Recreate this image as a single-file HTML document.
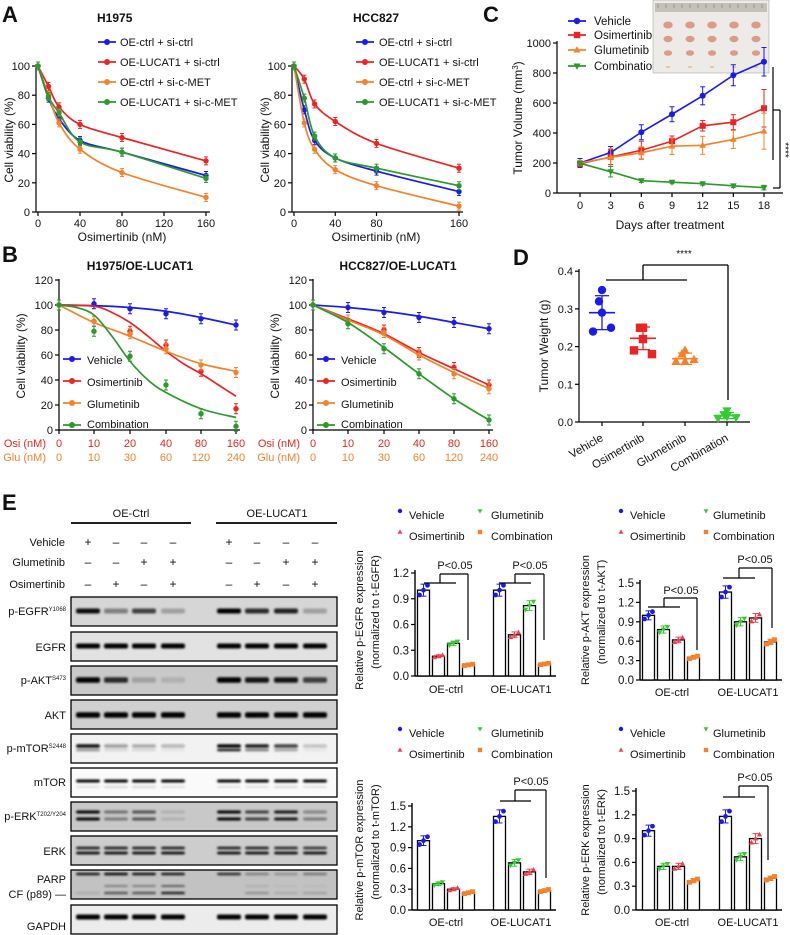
<!DOCTYPE html>
<html><head><meta charset="utf-8"><style>
html,body{margin:0;padding:0;background:#fff}
svg{display:block}
svg text{font-family:"Liberation Sans",Arial,sans-serif;font-size:11px;fill:#111}
.b{font-weight:bold}
</style></head><body>
<svg id="s" width="790" height="935" viewBox="0 0 790 935" xmlns="http://www.w3.org/2000/svg">
<defs><filter id="bl" x="-20%" y="-100%" width="140%" height="300%"><feGaussianBlur stdDeviation="1.1"/></filter></defs>
<text x="2" y="22" class="b" style="font-size:22px">A</text>
<text x="2" y="262" class="b" style="font-size:22px">B</text>
<text x="483" y="22" class="b" style="font-size:22px">C</text>
<text x="513" y="265" class="b" style="font-size:22px">D</text>
<text x="2" y="510" class="b" style="font-size:22px">E</text>
<text x="97" y="22" class="b" style="font-size:12px">H1975</text>
<text x="353" y="22" class="b" style="font-size:12px">HCC827</text>
<text transform="translate(13,140) rotate(-90)" text-anchor="middle" style="font-size:12px">Cell viability (%)</text>
<text transform="translate(269,140) rotate(-90)" text-anchor="middle" style="font-size:12px">Cell viability (%)</text>
<text x="122" y="241" text-anchor="middle" style="font-size:12px">Osimertinib (nM)</text>
<text x="376" y="241" text-anchor="middle" style="font-size:12px">Osimertinib (nM)</text>
<text x="120" y="46">OE-ctrl + si-ctrl</text><text x="120" y="66">OE-LUCAT1 + si-ctrl</text><text x="120" y="86">OE-ctrl + si-c-MET</text><text x="120" y="106">OE-LUCAT1 + si-c-MET</text>
<text x="379" y="46">OE-ctrl + si-ctrl</text><text x="379" y="66">OE-LUCAT1 + si-ctrl</text><text x="379" y="86">OE-ctrl + si-c-MET</text><text x="379" y="106">OE-LUCAT1 + si-c-MET</text>
<text x="140" y="270" text-anchor="middle" class="b" style="font-size:12px">H1975/OE-LUCAT1</text>
<text x="398" y="270" text-anchor="middle" class="b" style="font-size:12px">HCC827/OE-LUCAT1</text>
<text transform="translate(25,356) rotate(-90)" text-anchor="middle" style="font-size:12px">Cell viability (%)</text>
<text transform="translate(279,356) rotate(-90)" text-anchor="middle" style="font-size:12px">Cell viability (%)</text>
<text x="87" y="364">Vehicle</text><text x="87" y="386">Osimertinib</text><text x="87" y="408">Glumetinib</text><text x="87" y="428">Combination</text>
<text x="341" y="364">Vehicle</text><text x="341" y="386">Osimertinib</text><text x="341" y="408">Glumetinib</text><text x="341" y="428">Combination</text>
<text x="46" y="447" text-anchor="end" style="fill:#e8251c">Osi (nM)</text><text x="46" y="461" text-anchor="end" style="fill:#f5822a">Glu (nM)</text>
<text x="300" y="447" text-anchor="end" style="fill:#e8251c">Osi (nM)</text><text x="300" y="461" text-anchor="end" style="fill:#f5822a">Glu (nM)</text>
<text x="594" y="25" style="font-size:11.5px">Vehicle</text><text x="594" y="39" style="font-size:11.5px">Osimertinib</text><text x="594" y="54" style="font-size:11.5px">Glumetinib</text><text x="594" y="70" style="font-size:11.5px">Combination</text>
<text transform="translate(522,118) rotate(-90)" text-anchor="middle" style="font-size:12px">Tumor Volume (mm<tspan dy="-4" style="font-size:8px">3</tspan><tspan dy="4">)</tspan></text>
<text x="670" y="229" text-anchor="middle" style="font-size:12px">Days after treatment</text>
<text transform="translate(548,346) rotate(-90)" text-anchor="middle" style="font-size:12px">Tumor Weight (g)</text>
<text x="684" y="257" text-anchor="middle" style="font-size:10px">****</text>
<text transform="translate(604,440) rotate(-30)" text-anchor="end" style="font-size:11.5px">Vehicle</text>
<text transform="translate(645,440) rotate(-30)" text-anchor="end" style="font-size:11.5px">Osimertinib</text>
<text transform="translate(687,440) rotate(-30)" text-anchor="end" style="font-size:11.5px">Glumetinib</text>
<text transform="translate(729,440) rotate(-30)" text-anchor="end" style="font-size:11.5px">Combination</text>
<text transform="translate(782,150) rotate(90)" text-anchor="middle" style="font-size:10px">****</text>
<text x="131" y="517" text-anchor="middle">OE-Ctrl</text>
<text x="277" y="517" text-anchor="middle">OE-LUCAT1</text>
<text x="65" y="546" text-anchor="end">Vehicle</text>
<text x="65" y="566" text-anchor="end">Glumetinib</text>
<text x="65" y="588" text-anchor="end">Osimertinib</text>
<text x="66" y="615" text-anchor="end">p-EGFR<tspan dy="-4" style="font-size:6px">Y1068</tspan></text>
<text x="66" y="651" text-anchor="end">EGFR</text>
<text x="66" y="684" text-anchor="end">p-AKT<tspan dy="-4" style="font-size:6px">S473</tspan></text>
<text x="66" y="719" text-anchor="end">AKT</text>
<text x="66" y="752" text-anchor="end">p-mTOR<tspan dy="-4" style="font-size:6px">S2448</tspan></text>
<text x="66" y="786" text-anchor="end">mTOR</text>
<text x="66" y="820" text-anchor="end">p-ERK<tspan dy="-4" style="font-size:6px">T202/Y204</tspan></text>
<text x="66" y="855" text-anchor="end">ERK</text>
<text x="66" y="883" text-anchor="end">PARP</text>
<text x="66" y="898" text-anchor="end">CF (p89) —</text>
<text x="66" y="930" text-anchor="end">GAPDH</text>
<g style="font-size:11.5px">
<text x="409" y="519">Vehicle</text><text x="491" y="519">Glumetinib</text><text x="409" y="540">Osimertinib</text><text x="491" y="540">Combination</text>
<text x="630" y="519">Vehicle</text><text x="713" y="519">Glumetinib</text><text x="630" y="540">Osimertinib</text><text x="713" y="540">Combination</text>
<text x="409" y="737">Vehicle</text><text x="491" y="737">Glumetinib</text><text x="409" y="758">Osimertinib</text><text x="491" y="758">Combination</text>
<text x="630" y="737">Vehicle</text><text x="713" y="737">Glumetinib</text><text x="630" y="758">Osimertinib</text><text x="713" y="758">Combination</text>
</g>
<g style="font-size:11.5px">
<text transform="translate(363,620) rotate(-90)" text-anchor="middle">Relative p-EGFR expression</text>
<text transform="translate(379,612) rotate(-90)" text-anchor="middle">(normalized to t-EGFR)</text>
<text transform="translate(589,620) rotate(-90)" text-anchor="middle">Relative p-AKT expression</text>
<text transform="translate(605,612) rotate(-90)" text-anchor="middle">(normalized to t-AKT)</text>
<text transform="translate(363,850) rotate(-90)" text-anchor="middle">Relative p-mTOR expression</text>
<text transform="translate(379,842) rotate(-90)" text-anchor="middle">(normalized to t-mTOR)</text>
<text transform="translate(589,850) rotate(-90)" text-anchor="middle">Relative p-ERK expression</text>
<text transform="translate(605,842) rotate(-90)" text-anchor="middle">(normalized to t-ERK)</text>
</g>
<g style="font-size:12px" text-anchor="middle">
<text x="455" y="569">P&lt;0.05</text><text x="530" y="569">P&lt;0.05</text>
<text x="681" y="594">P&lt;0.05</text><text x="755" y="563">P&lt;0.05</text>
<text x="531" y="785">P&lt;0.05</text><text x="755" y="781">P&lt;0.05</text>
</g>
<g text-anchor="middle" style="font-size:11.5px">
<text x="446" y="678" dy="15">OE-ctrl</text><text x="521" y="678" dy="15">OE-LUCAT1</text>
<text x="672" y="681" dy="15">OE-ctrl</text><text x="748" y="681" dy="15">OE-LUCAT1</text>
<text x="446" y="911" dy="15">OE-ctrl</text><text x="521" y="911" dy="15">OE-LUCAT1</text>
<text x="672" y="911" dy="15">OE-ctrl</text><text x="748" y="911" dy="15">OE-LUCAT1</text>
</g>
</svg>
<script>
const S=document.getElementById('s');const NS='http://www.w3.org/2000/svg';
function E(t,a,txt,par){const e=document.createElementNS(NS,t);for(const k in a)e.setAttribute(k,a[k]);if(txt!==undefined)e.textContent=txt;(par||S).appendChild(e);return e;}
function L(x1,y1,x2,y2,c,w){return E('line',{x1,y1,x2,y2,stroke:c||'#000','stroke-width':w||1.2});}
function T(x,y,s,o){return E('text',Object.assign({x,y},o||{}),String(s));}
const B='#1a1aee',R='#ee2222',O='#f5822a',G='#2a9a2a',GL='#33cc33',RL='#f04050';
function mk(t,x,y,c,r){r=r||3;
 if(t=='c')E('circle',{cx:x,cy:y,r,fill:c});
 else if(t=='s')E('rect',{x:x-r,y:y-r,width:2*r,height:2*r,fill:c});
 else if(t=='t')E('polygon',{points:`${x},${y-r*1.2} ${x-r*1.1},${y+r*0.8} ${x+r*1.1},${y+r*0.8}`,fill:c});
 else E('polygon',{points:`${x},${y+r*1.2} ${x-r*1.1},${y-r*0.8} ${x+r*1.1},${y-r*0.8}`,fill:c});}
function eb(x,y1,y2,c,w){L(x,y1,x,y2,c,1);L(x-w,y1,x+w,y1,c,1);L(x-w,y2,x+w,y2,c,1);}
function smooth(p){let d=`M${p[0][0]},${p[0][1]}`;for(let i=0;i<p.length-1;i++){const p0=p[i-1]||p[i],p1=p[i],p2=p[i+1],p3=p[i+2]||p2;d+=` C${p1[0]+(p2[0]-p0[0])/6},${p1[1]+(p2[1]-p0[1])/6} ${p2[0]-(p3[0]-p1[0])/6},${p2[1]-(p3[1]-p1[1])/6} ${p2[0]},${p2[1]}`;}return d;}
function panelA(ax,x0,x1,ticks,data,lx){
 const X=v=>x0+(x1-x0)*v/160,Y=v=>212-146*v/100;
 L(ax,64,ax,212);L(ax,212,x1+4,212);
 for(const v of [0,20,40,60,80,100]){L(ax-4,Y(v),ax,Y(v));T(ax-6,Y(v)+4,v,{'text-anchor':'end'});}
 for(const v of ticks){L(X(v),212,X(v),216);T(X(v),227,v,{'text-anchor':'middle'});}
 const xs=[0,10,20,40,80,160];
 data.forEach(([c,vals],k)=>{const p=xs.map((x,i)=>[X(x),Y(vals[i])]);
  E('path',{d:smooth(p),fill:'none',stroke:c,'stroke-width':1.7});
  p.forEach(q=>{eb(q[0],q[1]-4,q[1]+4,c,2);mk('c',q[0],q[1],c,2.7);});
  const ly=42+k*20;L(lx,ly,lx+18,ly,c,1.7);mk('c',lx+9,ly,c,3);});
}
panelA(36,38,206,[0,40,80,120,160],[[B,[100,78,64,49,41,25]],[R,[100,86,72,60,51,35]],[O,[100,80,61,43,27,10]],[G,[100,79,68,48,41,23]]],98);
panelA(292,294,459,[0,40,80,160],[[B,[100,70,49,37,28,14]],[R,[100,91,74,62,47,30]],[O,[100,61,43,29,18,4]],[G,[100,78,52,37,30,18]]],356);
// Panel B
function panelB(ax,xs,data,lx){
 const Y=v=>430-125*v/100;
 L(ax,279,ax,430);L(ax,430,xs[5]+4,430);
 for(const v of [0,20,40,60,80,100,120]){L(ax-4,Y(v),ax,Y(v));T(ax-6,Y(v)+4,v,{'text-anchor':'end'});}
 const osi=[0,10,20,40,80,160],glu=[0,10,30,60,120,240];
 xs.forEach((x,i)=>{L(x,430,x,434);T(x,447,osi[i],{'text-anchor':'middle',style:'fill:#e8251c'});T(x,461,glu[i],{'text-anchor':'middle',style:'fill:#f5822a'});});
 data.forEach(([c,curve,vals],k)=>{
  const cp=curve.map(([xi,v])=>{const i=Math.floor(xi),f=xi-i;const x=i>=5?xs[5]:xs[i]+(xs[i+1]-xs[i])*f;return [x,Y(v)];});
  E('path',{d:smooth(cp),fill:'none',stroke:c,'stroke-width':1.7});
  xs.forEach((x,i)=>{const y=Y(vals[i]);eb(x,y-5,y+5,c,2);mk('c',x,y,c,2.7);});
  const ly=359+k*22;L(lx,ly,lx+18,ly,c,1.7);mk('c',lx+9,ly,c,3);});
}
panelB(59,[59,94,130,166,201,236],[
 [B,[[0,100],[1,99.5],[2,98],[3,95],[4,90],[5,84]],[100,101,97,93,89,84]],
 [R,[[0,100],[1,99],[1.5,94],[2,86],[2.5,75],[3,63],[3.5,53],[4,45],[4.5,36],[5,27]],[100,87,79,68,47,17]],
 [O,[[0,100],[1,86],[2,75],[3,63],[4,53],[5,47]],[100,87,77,65,52,46]],
 [G,[[0,100],[0.5,98],[1,92],[1.5,75],[2,55],[2.5,40],[3,30],[4,17],[5,10]],[100,79,59,36,13,3]]],63);
panelB(313,[313,348,384,419,454,489],[
 [B,[[0,100],[1,98],[2,95],[3,91],[4,86],[5,81]],[100,98,94,90,86,81]],
 [R,[[0,100],[1,89],[2,77],[3,62],[4,49],[5,36]],[100,88,80,62,50,36]],
 [O,[[0,100],[1,88],[2,76],[3,60],[4,46],[5,33]],[100,88,78,60,45,33]],
 [G,[[0,100],[1,86],[2,66],[3,45],[4,25],[5,8]],[100,85,65,45,25,8]]],317);
// Panel C
(function(){
 const X=d=>580+d*184/18,Y=v=>193-v*0.15;
 L(557,41,557,193);L(557,193,783,193);
 for(let v=0;v<=1000;v+=200){L(553,Y(v),557,Y(v));T(551,Y(v)+4,v,{'text-anchor':'end'});}
 for(let d=0;d<=18;d+=3){L(X(d),193,X(d),197);T(X(d),209,d,{'text-anchor':'middle'});}
 E('rect',{x:653,y:0,width:116,height:73,fill:'#ecebe7',stroke:'#999','stroke-width':0.5});
 E('rect',{x:655,y:3,width:112,height:9,fill:'#c4c1b9'});
 for(let i=0;i<14;i++)L(658+i*8,4,658+i*8,8,'#555',0.4);
 const szs=[3.5,3.2,2.8,1];
 for(let r=0;r<4;r++)for(let c=0;c<5;c++)E('ellipse',{cx:668+c*22,cy:25+r*14,rx:szs[r]+1.3,ry:szs[r],fill:r==3?'#ecc0a0':'#de9a88'});
 const data=[[B,'c',[200,270,405,525,648,785,875],[30,40,50,50,60,70,95]],[R,'s',[195,240,285,345,448,472,565],[20,50,60,35,35,50,125]],[O,'t',[200,238,268,312,318,357,412],[15,60,40,55,60,60,120]],[G,'i',[198,142,82,72,62,48,36],[10,35,12,10,10,12,15]]];
 data.forEach(([c,m,v,e],k)=>{const p=v.map((y,i)=>[X(i*3),Y(y)]);
  E('polyline',{points:p.map(q=>q.join(',')).join(' '),fill:'none',stroke:c,'stroke-width':1.6});
  p.forEach((q,i)=>{eb(q[0],Y(v[i]+e[i]),Y(v[i]-e[i]),c,2.5);mk(m,q[0],q[1],c,3);});
  const ly=[21,35,50,66][k];L(568,ly,586,ly,c,1.7);mk(m,577,ly,c,3.2);});
 L(773,67,773,160);L(773,110,780,110);L(780,110,780,188);L(780,188,773,188);
})();
// Panel D
(function(){
 const Y=v=>422-v*377;
 L(579,269,579,422);L(579,422,750,422);
 [0,0.1,0.2,0.3,0.4].forEach(v=>{L(575,Y(v),579,Y(v));T(573,Y(v)+4,v.toFixed(1),{'text-anchor':'end'});});
 const gs=[[602,B,'c',[.35,.32,.29,.24,.25],.29,.045],[643,R,'s',[.25,.25,.22,.19,.18],.222,.03],[685,O,'t',[.19,.18,.16,.16,.165],.168,.015],[727,GL,'i',[.03,.02,.015,.01,.012],.017,.008]];
 gs.forEach(([x,c,m,vs,mean,sd])=>{L(x,422,x,426);
  vs.forEach((v,i)=>mk(m,x+[0,0,0,-9,9][i]+(i==1?-3:0),Y(v),c,4.2));
  L(x-13,Y(mean),x+13,Y(mean),c,1.6);L(x,Y(mean+sd),x,Y(mean-sd),c,1.3);L(x-7,Y(mean+sd),x+7,Y(mean+sd),c,1.3);L(x-7,Y(mean-sd),x+7,Y(mean-sd),c,1.3);});
 L(606,280,687,280,'#000',1.3);L(643,280,643,265,'#000',1.3);L(643,265,728,265,'#000',1.3);L(728,265,728,400,'#000',1.3);
})();
// Bar charts
function bars(ax,y0,ytop,vmax,xs,vals,pts,leg){
 const Y=v=>y0-(y0-ytop)*v/vmax,n=Math.round(vmax/0.3);
 L(ax,ytop-3,ax,y0,'#000',1.4);L(ax,y0,xs[7]+18,y0,'#000',1.4);
 for(let i=0;i<=n;i++){const v=i*0.3;L(ax-4,Y(v),ax,Y(v));T(ax-6,Y(v)+4,v.toFixed(1),{'text-anchor':'end',style:'font-size:11.5px'});}
 const cm={v:[B,'c'],g:[GL,'i'],o:[RL,'t'],c:[O,'s']};
 xs.forEach((x,i)=>{const v=vals[i];E('rect',{x:x+0.5,y:Y(v),width:12,height:y0-Y(v),fill:'#fff',stroke:'#000','stroke-width':1.3});
  const [c,m]=cm[pts[i]];const sp=v*0.07;
  eb(x+6.5,Y(v+sp),Y(Math.max(v-sp,0)),c,3);
  [-4,0,4].forEach((d,j)=>mk(m,x+6.5+d,Y(v+(j-1)*sp*0.8),c,2.4));});
 const [lx1,lx2,ly]=leg;mk('c',lx1,ly-4,B,2.2);mk('i',lx2,ly-4,GL,2.2);mk('t',lx1,ly+17,RL,2.2);mk('s',lx2,ly+17,O,2.2);
}
function pb(x1,x2,yl,xm,yt,xr,yb){L(x1,yl,x2,yl);L(xm,yl,xm,yt);L(xm,yt,xr,yt);L(xr,yt,xr,yb);}
const g1=[417,432,447,462,493,508,523,538],g2=[642,657,672,687,719,734,749,764];
bars(415,676,573,1.2,g1,[1,.23,.38,.13,1,.48,.82,.14],['v','o','g','c','v','o','g','c'],[400,480,515]);
pb(424,456,583,440,574,468,640);pb(499,531,583,515,574,544,640);
bars(640,680,583,1.5,g2,[1,.78,.62,.35,1.36,.9,.96,.59],['v','g','o','c','v','g','o','c'],[621,706,515]);
pb(648,680,607,664,598,697,650);pb(723,755,578,739,568,772,628);
bars(412,910,806,1.5,g1,[1,.38,.3,.25,1.35,.68,.55,.28],['v','g','o','c','v','g','o','c'],[400,480,733]);
pb(500,531,801,515,790,546,878);
bars(636,910,791,1.5,g2,[1,.55,.55,.37,1.18,.67,.9,.4],['v','g','o','c','v','g','o','c'],[621,706,733]);
pb(723,755,797,739,786,768,860);
// Panel E blot
(function(){
 L(71,523,191,523,'#000',1.8);L(216,523,337,523,'#000',1.8);
 const lanes=[88,116,144,173,229,257,286,315];
 const sg=[['+','–','–','–','+','–','–','–'],['–','–','+','+','–','–','+','+'],['–','+','–','+','–','+','–','+']];
 sg.forEach((r,ri)=>r.forEach((s,i)=>T(lanes[i],[546,566,588][ri],s,{'text-anchor':'middle',style:'font-size:12px'})));
 const rows=[
  [597,'#d6d6d6',[[14,[.95,.4,.7,.25,1,.8,.85,.25],5]]],
  [632,'#e2e2e2',[[14,[1,1,1,1,1,1,1,1],5]]],
  [666,'#c9c9c9',[[14,[1,.8,.2,.12,1,.9,.9,.7],5.5]]],
  [700,'#d0d0d0',[[15,[1,1,1,1,1,1,1,1],5.5]]],
  [734,'#f2f2f2',[[12,[.95,.35,.3,.25,1,.9,.75,.2],3.5],[16,[.4,.12,.12,.06,.9,.5,.35,.06],2.5]]],
  [768,'#fafafa',[[13,[1,1,1,1,1,1,1,1],3],[19,[.15,.2,.2,.15,.15,.15,.2,.15],1.5]]],
  [802,'#c8c8c8',[[10,[1,.45,.6,.12,1,.7,.9,.35],3],[17,[1,.4,.6,.12,1,.7,.9,.4],3]]],
  [836,'#cdcdcd',[[12,[.9,.9,.9,.9,.9,.9,.85,.8],2.5],[17,[.95,.95,.95,.95,.95,.95,.95,.95],2.8]]],
  [870,'#c2c2c2',[[4,[.9,1,.95,.9,.8,.35,.25,.4],2.5],[16,[0,.4,.4,.6,0,.12,.06,.06],1.8],[23,[.12,.6,.6,.9,0,.25,.12,.18],2.3]]],
  [905,'#ececec',[[12,[1,1,1,1,1,1,1,1],5]]]];
 rows.forEach(([y,bg,bands])=>{E('rect',{x:71,y,width:266,height:29,fill:bg,stroke:'#000','stroke-width':1.3});
  bands.forEach(([dy,ints,h])=>lanes.forEach((x,i)=>{if(ints[i]>0.02)E('rect',{x:x-12,y:y+dy-h/2,width:24,height:h,rx:2,fill:'#000','fill-opacity':ints[i],filter:'url(#bl)'});}));});
})();
</script>
</body></html>
